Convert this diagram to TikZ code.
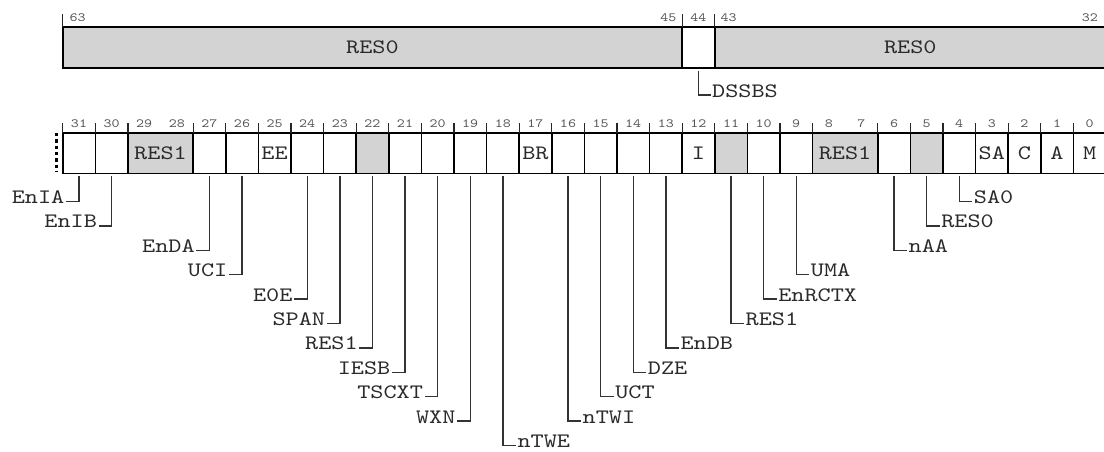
\documentclass[tikz,border=0pt]{standalone}
\usepackage{fontspec}
\newfontfamily\regfont{lmmono10-regular}[Extension=.otf, FakeStretch=1.22]
\definecolor{resgray}{HTML}{D3D3D3}
\definecolor{txtcol}{HTML}{2A2A2A}
\definecolor{numcol}{HTML}{555555}
\tikzset{
  cellbox/.style={draw=black, line width=1.6pt, inner sep=0pt, outer sep=0pt,
    minimum height=40.6pt, font=\regfont\fontsize{20.5}{22}\selectfont, text=txtcol},
  bitnum/.style={font=\regfont\fontsize{12.5}{13}\selectfont, text=numcol, inner sep=1pt},
  bittick/.style={draw=black!85, line width=1.2pt},
  leader/.style={draw=black!80, line width=1.4pt},
  lab/.style={font=\regfont\fontsize{20.5}{22}\selectfont, text=txtcol, inner sep=1.5pt},
  dotline/.style={draw=black, line width=3pt, dash pattern=on 3.3pt off 3pt}
}
\begin{document}
\begin{tikzpicture}[x=1pt,y=-1pt]
\useasboundingbox (0,0) rectangle (1104,451);
% ---------------- upper register (bits 63..32)
\node[cellbox, fill=resgray, minimum width=619.4pt, minimum height=41pt, anchor=north west] (u63) at (62.7,26.7) {RES0};
\node[cellbox, fill=white, minimum width=32.6pt, minimum height=41pt, anchor=north west] (u44) at (682.1,26.7) {};
\node[cellbox, fill=resgray, minimum width=391.2pt, minimum height=41pt, anchor=north west] (u43) at (714.7,26.7) {RES0};
\foreach \c in {u63,u44,u43}{
  \draw[bittick] (\c.north west) -- ++(0,-12.5);
}
\node[bitnum, anchor=west] (n63) at (68.5,18) {63};
\node[bitnum, anchor=east] (n45) at (677.5,18) {45};
\node[bitnum] (n44) at (698.4,18) {44};
\node[bitnum, anchor=west] (n43) at (719.5,18) {43};
\node[bitnum, anchor=east] (n32) at (1099,18) {32};
\node[lab, anchor=base west] (ldssbs) at (710.5,97.5) {DSSBS};
\draw[leader] ([yshift=-3pt]u44.south) |- ([yshift=2.5pt]ldssbs.base west);
% ---------------- lower register (bits 31..0)
\foreach \b/\s/\f/\t in {31/1/white/{},30/1/white/{},29/2/resgray/RES1,27/1/white/{},26/1/white/{},
  25/1/white/EE,24/1/white/{},23/1/white/{},22/1/resgray/{},21/1/white/{},20/1/white/{},19/1/white/{},
  18/1/white/{},17/1/white/BR,16/1/white/{},15/1/white/{},14/1/white/{},13/1/white/{},12/1/white/I,
  11/1/resgray/{},10/1/white/{},9/1/white/{},8/2/resgray/RES1,6/1/white/{},5/1/resgray/{},
  4/1/white/{},3/1/white/SA,2/1/white/C,1/1/white/A,0/1/white/M}{
  \pgfmathsetmacro\xl{62.7+(31-\b)*32.6}
  \pgfmathsetmacro\cw{\s*32.6}
  \node[cellbox, fill=\f, minimum width=\cw pt, anchor=north west] (c\b) at (\xl,132.7) {\t};
  \draw[bittick] (c\b.north west) -- ++(0,-10);
}
\foreach \b in {0,...,31}{
  \pgfmathsetmacro\xc{62.7+(31-\b)*32.6+16.3}
  \node[bitnum] (b\b) at (\xc,124) {\b};
}
\draw[dotline] (56,133) -- (56,172);
% labels on the left
\foreach \b/\t/\k in {31/EnIA/1,30/EnIB/2,27/EnDA/3,26/UCI/4,24/E0E/5,23/SPAN/6,22/RES1/7,
  21/IESB/8,20/TSCXT/9,19/WXN/10}{
  \pgfmathsetmacro\xc{62.7+(31-\b)*32.6+16.3}
  \pgfmathsetmacro\ly{201.5+(\k-1)*24.4}
  \node[lab, anchor=base east] (L\b) at (\xc-13,\ly+2) {\t};
  \draw[leader] ([yshift=-3pt]c\b.south) |- ([yshift=2pt]L\b.base east);
}
% labels on the right
\foreach \b/\t/\k in {18/nTWE/11,16/nTWI/10,15/UCT/9,14/DZE/8,13/EnDB/7,11/RES1/6,10/EnRCTX/5,
  9/UMA/4,6/nAA/3,5/RES0/2,4/SA0/1}{
  \pgfmathsetmacro\xc{62.7+(31-\b)*32.6+16.3}
  \pgfmathsetmacro\ly{201.5+(\k-1)*24.4}
  \node[lab, anchor=base west] (L\b) at (\xc+13,\ly+2) {\t};
  \draw[leader] ([yshift=-3pt]c\b.south) |- ([yshift=2pt]L\b.base west);
}
\end{tikzpicture}
\end{document}
